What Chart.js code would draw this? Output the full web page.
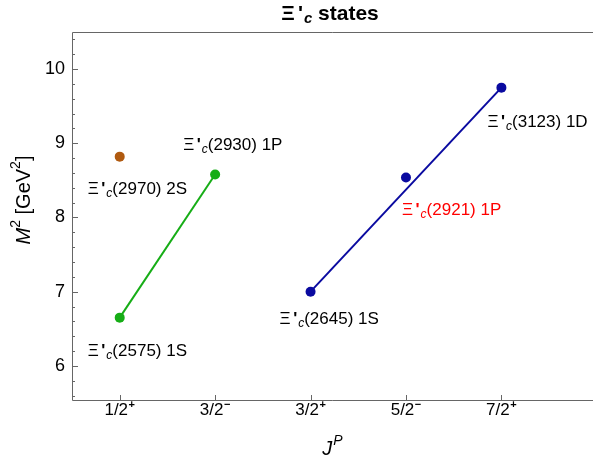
<!DOCTYPE html>
<html>
<head>
<meta charset="utf-8">
<script src="https://cdn.jsdelivr.net/npm/chart.js@4.4.1/dist/chart.umd.min.js"></script>
<style>
    html, body { margin: 0; padding: 0; background: #fff; }
    #wrap { width: 593px; height: 464px; }
</style>
</head>
<body>
<div id="wrap"><canvas id="reggeChart"></canvas></div>
<script>
// J^P 축 라벨 (본문, 위첨자)
const JP_BASE = ['1/2', '3/2', '3/2', '5/2', '7/2'];
const JP_SIGN = ['+', '−', '+', '−', '+'];
const Y_TICKS = [6, 7, 8, 9, 10];

// 상태별 J^P 위치와 M^2 값 (GeV^2)
const GREEN_J = [1, 2];
const GREEN_M2 = [6.65, 8.58];
const GREEN_NAMES = ['(2575) 1S', '(2930) 1P'];

const BLUE_J = [3, 4, 5];
const BLUE_M2 = [7.00, 8.54, 9.75];
const BLUE_NAMES = ['(2645) 1S', '(2921) 1P', '(3123) 1D'];

const BROWN_J = [1];
const BROWN_M2 = [8.82];
const BROWN_NAMES = ['(2970) 2S'];

const GREEN = '#16ad16';
const BLUE = '#0a0aa0';
const BROWN = '#b05a10';
const AXIS = '#666';
const FONT = '"Liberation Sans", Arial, sans-serif';

function toPoints(xs, ys) {
    return xs.map((x, i) => ({ x: x, y: ys[i] }));
}

// 라벨 위치 (점 기준 픽셀 오프셋)
const labelSpecs = [
    { name: BROWN_NAMES[0], x: BROWN_J[0], y: BROWN_M2[0], dx: -32, dy: 33, color: '#000' },
    { name: GREEN_NAMES[0], x: GREEN_J[0], y: GREEN_M2[0], dx: -32, dy: 34, color: '#000' },
    { name: GREEN_NAMES[1], x: GREEN_J[1], y: GREEN_M2[1], dx: -32, dy: -29, color: '#000' },
    { name: BLUE_NAMES[0], x: BLUE_J[0], y: BLUE_M2[0], dx: -31, dy: 28, color: '#000' },
    { name: BLUE_NAMES[1], x: BLUE_J[1], y: BLUE_M2[1], dx: -4, dy: 33, color: '#ff0000' },
    { name: BLUE_NAMES[2], x: BLUE_J[2], y: BLUE_M2[2], dx: -14, dy: 35, color: '#000' }
];

// 여러 폰트 조각을 이어서 그리기
function drawRich(ctx, parts, x, y, align) {
    let total = 0;
    parts.forEach(p => { ctx.font = p.font; total += ctx.measureText(p.t).width + (p.gap || 0); });
    let cx = align === 'center' ? x - total / 2 : x;
    ctx.textBaseline = 'middle';
    ctx.textAlign = 'left';
    parts.forEach(p => {
        ctx.font = p.font;
        cx += p.gap || 0;
        ctx.fillText(p.t, cx, y + (p.dy || 0));
        cx += ctx.measureText(p.t).width;
    });
}

function xiParts(size, bold) {
    const w = bold ? 'bold ' : '';
    return [
        { t: 'Ξ', font: w + size + 'px ' + FONT },
        { t: "'", font: 'bold ' + size + 'px ' + FONT, gap: size * 0.15 },
        { t: 'c', font: 'italic ' + w + Math.round(size * 0.72) + 'px ' + FONT, dy: size * 0.25, gap: 1 }
    ];
}

const framePlugin = {
    id: 'frame',
    afterDraw(chart) {
        const ctx = chart.ctx;
        const a = chart.chartArea;
        const xs = chart.scales.x;
        const ys = chart.scales.y;
        ctx.save();

        // 프레임 (왼쪽, 아래, 위)
        ctx.strokeStyle = AXIS;
        ctx.lineWidth = 1;
        ctx.beginPath();
        ctx.moveTo(a.right, a.top + 0.5);
        ctx.lineTo(a.left + 0.5, a.top + 0.5);
        ctx.lineTo(a.left + 0.5, a.bottom + 0.5);
        ctx.lineTo(a.right, a.bottom + 0.5);
        ctx.stroke();

        // y 눈금 (안쪽)
        ctx.beginPath();
        for (let v = 5.6; v <= 10.5; v += 0.2) {
            const r = Math.round(v * 10) / 10;
            const py = Math.round(ys.getPixelForValue(r)) + 0.5;
            const len = Number.isInteger(r) ? 6 : 3;
            ctx.moveTo(a.left, py);
            ctx.lineTo(a.left + len, py);
        }
        // x 눈금
        JP_BASE.forEach((_, i) => {
            const px = Math.round(xs.getPixelForValue(i + 1)) + 0.5;
            ctx.moveTo(px, a.bottom);
            ctx.lineTo(px, a.bottom - 5);
        });
        ctx.stroke();

        // x 눈금 라벨 (위첨자 패리티)
        ctx.fillStyle = '#000';
        JP_BASE.forEach((t, i) => {
            drawRich(ctx, [
                { t: t, font: '17px ' + FONT },
                { t: JP_SIGN[i], font: 'bold 11px ' + FONT, dy: -5, gap: 0.5 }
            ], xs.getPixelForValue(i + 1), a.bottom + 10, 'center');
        });

        // 상태 라벨
        labelSpecs.forEach(s => {
            ctx.fillStyle = s.color;
            const px = xs.getPixelForValue(s.x) + s.dx;
            const py = ys.getPixelForValue(s.y) + s.dy;
            drawRich(ctx, xiParts(17, false).concat([{ t: s.name, font: '17px ' + FONT }]), px, py, 'left');
        });

        // 제목
        ctx.fillStyle = '#000';
        drawRich(ctx, xiParts(21, true).concat([{ t: ' states', font: 'bold 21px ' + FONT }]), 330, 14, 'center');

        // x축 제목 J^P
        drawRich(ctx, [
            { t: 'J', font: 'italic 20px ' + FONT },
            { t: 'P', font: 'italic 14px ' + FONT, dy: -8, gap: 1 }
        ], (a.left + a.right) / 2, 449, 'center');

        // y축 제목 M^2 [GeV^2]
        ctx.translate(24, 200);
        ctx.rotate(-Math.PI / 2);
        drawRich(ctx, [
            { t: 'M', font: 'italic 20px ' + FONT },
            { t: '2', font: '14px ' + FONT, dy: -8 },
            { t: ' [GeV', font: '20px ' + FONT },
            { t: '2', font: '14px ' + FONT, dy: -8 },
            { t: ']', font: '20px ' + FONT }
        ], 0, 0, 'center');

        ctx.restore();
    }
};

function initReggeChart() {
    const ctx = document.getElementById('reggeChart');

    const config = {
        type: 'scatter',
        data: {
            datasets: [
                {
                    data: toPoints(GREEN_J, GREEN_M2),
                    showLine: true,
                    borderColor: GREEN,
                    backgroundColor: GREEN,
                    borderWidth: 2,
                    pointRadius: 5,
                    pointBorderWidth: 0
                },
                {
                    // 1S-1D 직선
                    data: toPoints([BLUE_J[0], BLUE_J[2]], [BLUE_M2[0], BLUE_M2[2]]),
                    showLine: true,
                    borderColor: BLUE,
                    borderWidth: 2,
                    pointRadius: 0
                },
                {
                    data: toPoints(BLUE_J, BLUE_M2),
                    backgroundColor: BLUE,
                    pointRadius: 5,
                    pointBorderWidth: 0
                },
                {
                    data: toPoints(BROWN_J, BROWN_M2),
                    backgroundColor: BROWN,
                    pointRadius: 5,
                    pointBorderWidth: 0
                }
            ]
        },
        options: {
            responsive: true,
            maintainAspectRatio: false,
            animation: false,
            layout: {
                autoPadding: false,
                padding: { top: 32, right: 0, left: 0, bottom: 0 }
            },
            plugins: {
                legend: { display: false },
                tooltip: { enabled: false }
            },
            scales: {
                x: {
                    type: 'linear',
                    min: 0.5,
                    max: 5.96,
                    afterFit: s => { s.height = 64; },
                    grid: { display: false, drawTicks: false },
                    border: { display: false },
                    ticks: { display: false }
                },
                y: {
                    min: 5.54,
                    max: 10.5,
                    afterFit: s => { s.width = 72; },
                    afterBuildTicks: s => {
                        s.ticks = Y_TICKS.map(v => ({ value: v }));
                    },
                    grid: { display: false, drawTicks: false },
                    border: { display: false },
                    ticks: {
                        color: '#000',
                        padding: 7,
                        font: { size: 18, family: FONT }
                    }
                }
            }
        },
        plugins: [framePlugin]
    };

    new Chart(ctx, config);
}

initReggeChart();
</script>
</body>
</html>
